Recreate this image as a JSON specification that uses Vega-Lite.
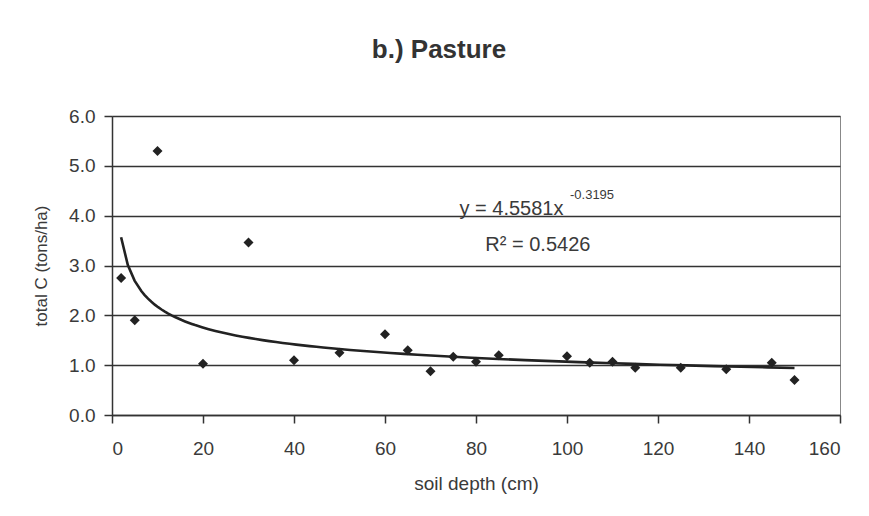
{
  "$schema": "https://vega.github.io/schema/vega-lite/v6.json",
  "width": 728,
  "height": 299,
  "autosize": {"type": "none"},
  "padding": {"left": 112, "top": 116, "right": 29, "bottom": 101},
  "background": "white",
  "title": {"text": "b.) Pasture", "fontSize": 26, "fontWeight": 600, "font": "Liberation Sans", "color": "#333", "offset": 44, "dx": -37},
  "datasets": {
    "pts": [
      {"depth": 2, "c": 2.75}, {"depth": 5, "c": 1.9}, {"depth": 10, "c": 5.3},
      {"depth": 20, "c": 1.03}, {"depth": 30, "c": 3.46}, {"depth": 40, "c": 1.1},
      {"depth": 50, "c": 1.25}, {"depth": 60, "c": 1.62}, {"depth": 65, "c": 1.3},
      {"depth": 70, "c": 0.88}, {"depth": 75, "c": 1.17}, {"depth": 80, "c": 1.07},
      {"depth": 85, "c": 1.2}, {"depth": 100, "c": 1.18}, {"depth": 105, "c": 1.05},
      {"depth": 110, "c": 1.07}, {"depth": 115, "c": 0.95}, {"depth": 125, "c": 0.95},
      {"depth": 135, "c": 0.92}, {"depth": 145, "c": 1.05}, {"depth": 150, "c": 0.7}
    ],
    "labels": [
      {"x": 87.8, "y": 4.14, "t": "y = 4.5581x", "s": 20},
      {"x": 105.5, "y": 4.42, "t": "-0.3195", "s": 13},
      {"x": 93.6, "y": 3.41, "t": "R² = 0.5426", "s": 20}
    ]
  },
  "layer": [
    {
      "data": {"name": "pts"},
      "transform": [{"regression": "c", "on": "depth", "method": "pow", "extent": [2, 150]}],
      "mark": {"type": "line", "color": "#222", "strokeWidth": 2.6},
      "encoding": {
        "x": {"field": "depth", "type": "quantitative"},
        "y": {"field": "c", "type": "quantitative"}
      }
    },
    {
      "data": {"name": "pts"},
      "mark": {"type": "point", "shape": "diamond", "filled": true, "color": "#222", "size": 100, "opacity": 1},
      "encoding": {
        "x": {
          "field": "depth", "type": "quantitative",
          "scale": {"domain": [0, 160], "nice": false},
          "axis": {"values": [0, 20, 40, 60, 80, 100, 120, 140, 160], "title": "soil depth (cm)", "titleFontSize": 19, "titleFont": "Liberation Sans", "titleFontWeight": "normal", "titleColor": "#3a3a3a", "titlePadding": 16, "labelFontSize": 19, "labelFont": "Liberation Sans", "labelColor": "#3a3a3a", "labelPadding": 16, "grid": false, "domainColor": "#333", "domainWidth": 1.5, "tickColor": "#333", "tickSize": 8, "tickWidth": 1.5}
        },
        "y": {
          "field": "c", "type": "quantitative",
          "scale": {"domain": [0, 6], "nice": false},
          "axis": {"values": [0, 1, 2, 3, 4, 5, 6], "format": ".1f", "title": "total C (tons/ha)", "titleFontSize": 17, "titleFont": "Liberation Sans", "titleFontWeight": "normal", "titleColor": "#3a3a3a", "titlePadding": 18, "labelFontSize": 19, "labelFont": "Liberation Sans", "labelColor": "#3a3a3a", "labelPadding": 9, "grid": true, "gridColor": "#333", "gridWidth": 1.5, "gridOpacity": 1, "domainColor": "#333", "domainWidth": 1.5, "tickColor": "#333", "tickSize": 8, "tickWidth": 1.5}
        }
      }
    },
    {
      "data": {"name": "labels"},
      "mark": {"type": "text", "font": "Liberation Sans", "color": "#3a3a3a", "baseline": "middle", "align": "center"},
      "encoding": {
        "x": {"field": "x", "type": "quantitative"},
        "y": {"field": "y", "type": "quantitative"},
        "text": {"field": "t"},
        "size": {"field": "s", "type": "quantitative", "scale": null}
      }
    }
  ],
  "config": {"view": {"stroke": "#888", "strokeWidth": 1}}
}
